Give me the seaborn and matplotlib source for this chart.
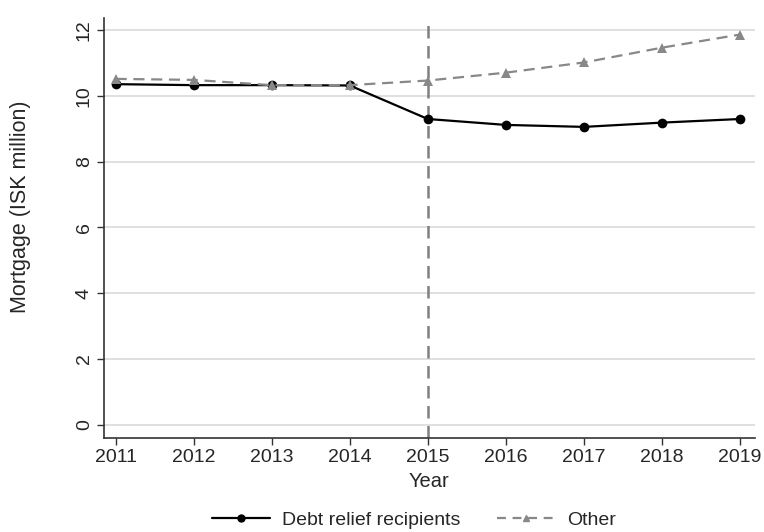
import numpy as np
import pandas as pd
import matplotlib
matplotlib.use("Agg")
import matplotlib.pyplot as plt
import seaborn as sns
from matplotlib.lines import Line2D

# data
years = [2011, 2012, 2013, 2014, 2015, 2016, 2017, 2018, 2019]
debt_relief = [10.36, 10.33, 10.33, 10.32, 9.30, 9.12, 9.06, 9.19, 9.30]
other = [10.52, 10.49, 10.33, 10.33, 10.47, 10.71, 11.02, 11.47, 11.87]
y_ticks = [0, 2, 4, 6, 8, 10, 12]

df = pd.DataFrame({
    "Year": years * 2,
    "Mortgage": debt_relief + other,
    "Group": ["Debt relief recipients"] * len(years) + ["Other"] * len(years),
})

sns.set_style("white")
plt.rcParams["font.family"] = ["Liberation Sans", "DejaVu Sans"]

fig = plt.figure(figsize=(7.64, 5.32), dpi=100)
ax = fig.add_axes([0.136, 0.177, 0.852, 0.789])

for yt in y_ticks:
    ax.axhline(yt, color="#e0e0e0", lw=1.4, zorder=0)

ax.axvline(2015, color="#808080", lw=1.8, ls=(0, (5, 3)), zorder=1)

sns.lineplot(data=df, x="Year", y="Mortgage", hue="Group", style="Group",
             palette={"Debt relief recipients": "black", "Other": "#888888"},
             markers={"Debt relief recipients": "o", "Other": "^"},
             dashes={"Debt relief recipients": "", "Other": (5, 3)},
             markersize=7, markeredgewidth=0, lw=1.6, ax=ax, legend=False, zorder=3)

ax.set_xlim(2010.85, 2019.19)
ax.set_ylim(-0.4, 12.37)
ax.set_xticks(years)
ax.set_yticks(y_ticks)
ax.set_yticklabels([str(t) for t in y_ticks], rotation=90, va="center")
ax.tick_params(axis="both", labelsize=14, length=5, width=1, color="#333333", direction="out", pad=3)
ax.tick_params(left=True, bottom=True)
ax.set_xlabel("Year", fontsize=14.5, labelpad=4)
ax.set_ylabel("Mortgage (ISK million)", fontsize=15.5)
ax.yaxis.set_label_coords(-0.112, 0.55)

for side in ["top", "right"]:
    ax.spines[side].set_visible(False)
for side in ["left", "bottom"]:
    ax.spines[side].set_color("#333333")
    ax.spines[side].set_linewidth(1.2)

handles = [
    Line2D([], [], color="black", lw=1.6, marker="o", markersize=5),
    Line2D([], [], color="#888888", lw=1.6, ls=(0, (4, 3)), marker="^", markersize=5),
]
fig.legend(handles, ["Debt relief recipients", "Other"], loc="center",
           bbox_to_anchor=(0.542, 0.022), ncol=2, frameon=False, fontsize=14,
           handlelength=3.0, columnspacing=1.9, handletextpad=0.6)

fig.savefig("out.png", dpi=100)
